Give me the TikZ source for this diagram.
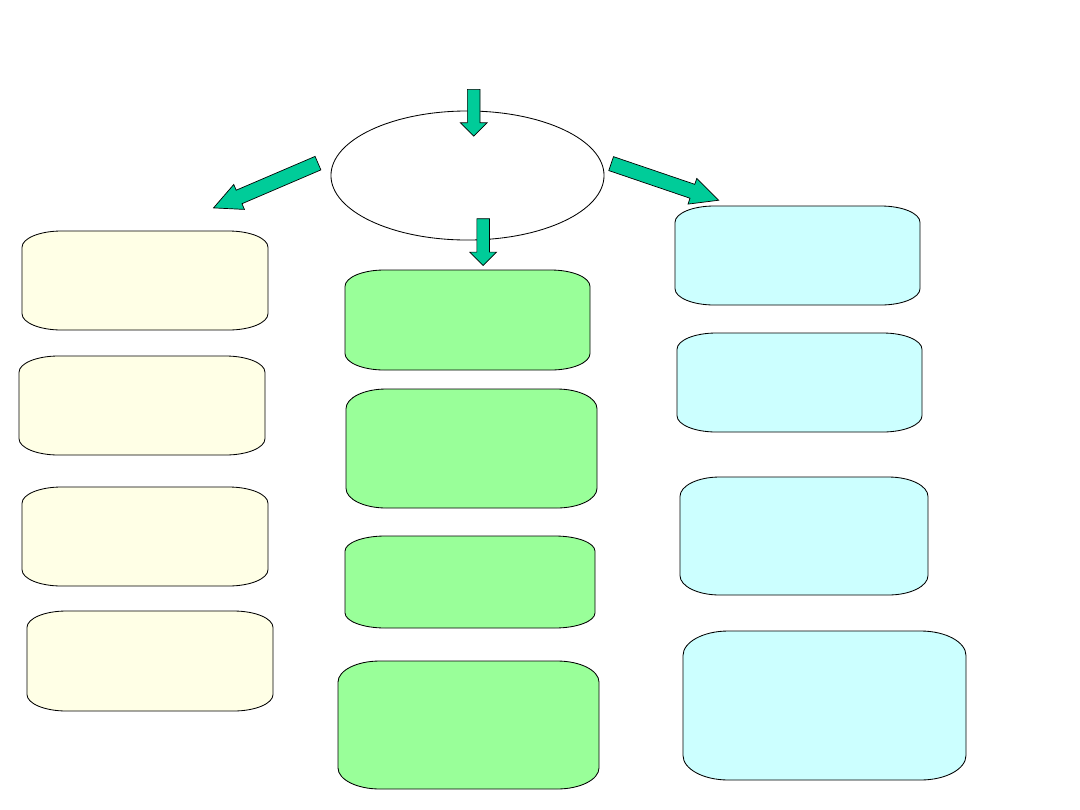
\documentclass[tikz,border=0pt]{standalone}
\usetikzlibrary{shapes.arrows,shapes.geometric}

\definecolor{paleyellow}{HTML}{FFFFE6}
\definecolor{palegreen}{HTML}{99FF99}
\definecolor{palecyan}{HTML}{CCFFFF}
\definecolor{arrowgreen}{HTML}{00CC99}

\tikzset{
  outline/.style={draw=black, line width=0.6pt},
  fatarrow/.style={single arrow, draw=black, line width=0.5pt, fill=arrowgreen,
    inner xsep=0pt, inner ysep=0.15cm, single arrow head extend=0.175cm,
    single arrow head indent=0pt, minimum height=1.17cm, anchor=tail},
  widearrow/.style={fatarrow, inner ysep=0.175cm, single arrow head extend=0.155cm,
    single arrow tip angle=52, minimum height=2.84cm}
}

% box with elliptic corners: name, fill, x1, y1, x2, y2 (pixel units)
\newcommand{\panel}[6]{%
  \node[inner sep=0pt, minimum width={(#5-#3)*0.025cm}, minimum height={(#6-#4)*0.025cm}]
    (#1) at ({(#3+#5)/2},{(#4+#6)/2}) {};
  \filldraw[outline, fill=#2]
    ({#3+0.16*(#5-#3)},#4) -- ({#5-0.16*(#5-#3)},#4)
    arc[start angle=270, end angle=360, x radius={0.16*(#5-#3)}, y radius={0.165*(#6-#4)}]
    -- (#5,{#6-0.165*(#6-#4)})
    arc[start angle=0, end angle=90, x radius={0.16*(#5-#3)}, y radius={0.165*(#6-#4)}]
    -- ({#3+0.16*(#5-#3)},#6)
    arc[start angle=90, end angle=180, x radius={0.16*(#5-#3)}, y radius={0.165*(#6-#4)}]
    -- (#3,{#4+0.165*(#6-#4)})
    arc[start angle=180, end angle=270, x radius={0.16*(#5-#3)}, y radius={0.165*(#6-#4)}]
    -- cycle;}

\begin{document}
\begin{tikzpicture}[x=0.025cm,y=-0.025cm]
\useasboundingbox (0,0) rectangle (1080,810);

\node[ellipse, outline, minimum width=6.825cm, minimum height=3.225cm, inner sep=0pt] (hub) at (467.5,175.5) {};

% left column
\panel{l1}{paleyellow}{22}{231}{268}{330}
\panel{l2}{paleyellow}{19}{356}{265}{455}
\panel{l3}{paleyellow}{22}{487}{268}{586}
\panel{l4}{paleyellow}{27}{611}{273}{711}

% middle column
\panel{m1}{palegreen}{345}{270}{590}{370}
\panel{m2}{palegreen}{346}{389}{597}{508}
\panel{m3}{palegreen}{345}{536}{595}{628}
\panel{m4}{palegreen}{338}{661}{599}{789}

% right column
\panel{r1}{palecyan}{675}{206}{920}{305}
\panel{r2}{palecyan}{677}{333}{922}{432}
\panel{r3}{palecyan}{680}{477}{928}{595}
\panel{r4}{palecyan}{683}{631}{966}{780}

% block arrows, placed by their tails
\node[fatarrow, rotate=-90] (intop) at (473.7,89) {};
\node[fatarrow, rotate=-90] (tomid) at (483.2,218.3) {};
\node[widearrow, rotate=203.2] (toleft) at (318.3,163) {};
\node[widearrow, rotate=-18.8] (toright) at (610.8,163.5) {};
\end{tikzpicture}
\end{document}
